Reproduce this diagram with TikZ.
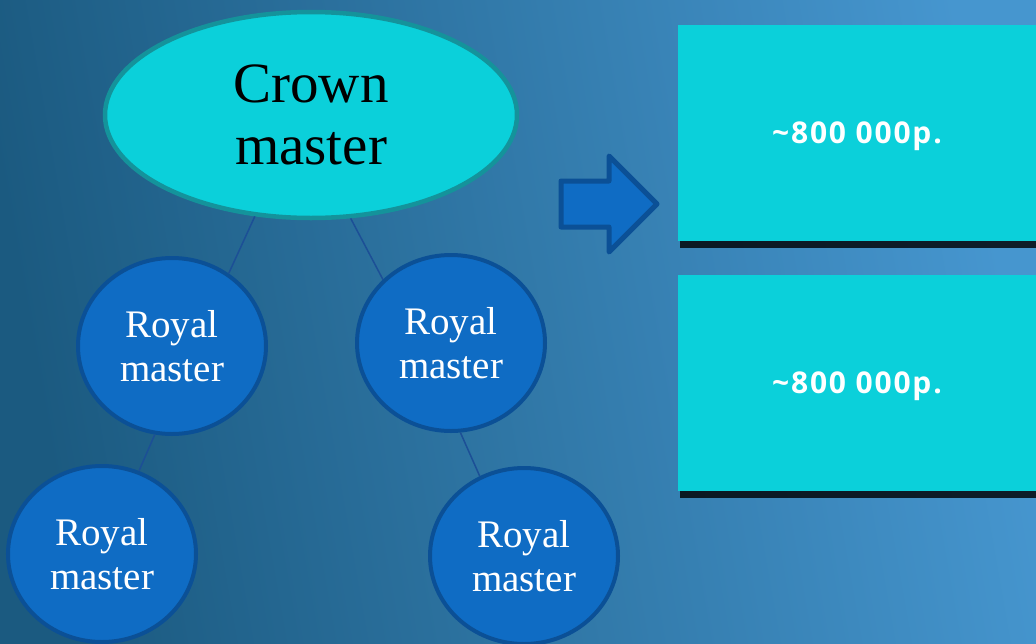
\documentclass[tikz,border=0pt]{standalone}
\usepackage{fontspec}
\setmainfont{Liberation Serif}
\newfontfamily\boxfont{Open Sans}
\usetikzlibrary{shapes.geometric,shadows}

\definecolor{bgleft}{HTML}{1B5A80}
\definecolor{bgright}{HTML}{4696CF}
\definecolor{cyanfill}{HTML}{0BD0DA}
\definecolor{cyanline}{HTML}{14939B}
\definecolor{royalfill}{HTML}{0F6CC4}
\definecolor{royalline}{HTML}{0B5096}
\definecolor{linkblue}{HTML}{1C4F96}

\begin{document}
\begin{tikzpicture}[
    x=1pt, y=-1pt,
    crown/.style={ellipse, draw=cyanline, fill=cyanfill, line width=4.5pt,
        minimum width=412, minimum height=206, align=center,
        font=\fontsize{57}{62}\selectfont},
    royal/.style={ellipse, draw=royalline, fill=royalfill, line width=4pt,
        minimum width=188, minimum height=176, align=center, text=white,
        font=\fontsize{39}{44}\selectfont},
    price/.style={rectangle, fill=cyanfill, minimum width=358, minimum height=216,
        inner sep=0pt, text height=21pt, text depth=0pt, text=white,
        font=\boxfont\bfseries\fontsize{30}{36}\selectfont,
        drop shadow={shadow xshift=2pt, shadow yshift=-7pt, opacity=0.8, fill=black}},
    link/.style={draw=linkblue, line width=1.5pt},
]
    % background
    \shade[left color=bgleft, right color=bgright, shading angle=100] (0,0) rectangle (1036,643);
    \useasboundingbox (0,0) rectangle (1036,643);

    % tree
    \node[crown] (crown) at (311,115) {Crown\\master};
    \node[royal] (royalA) at (172,346) {Royal\\master};
    \node[royal] (royalB) at (451,343) {Royal\\master};
    \node[royal] (royalC) at (102,554) {Royal\\master};
    \node[royal] (royalD) at (524,556) {Royal\\master};

    \draw[link] (crown.241) -- (royalA.52);
    \draw[link] (crown.291) -- (royalB.137);
    \draw[link] (royalA.259) -- (royalC.66);
    \draw[link] (royalB.276) -- (royalD.119);

    % block arrow
    \draw[draw=royalline, fill=royalfill, line width=5pt, line join=round]
        (561,181) -- (609,181) -- (609,156) -- (657,204) -- (609,252)
        -- (609,227) -- (561,227) -- cycle;

    % prices
    \node[price] (priceA) at (857,133) {\addfontfeature{LetterSpace=6}\textasciitilde800 000р.};
    \node[price] (priceB) at (857,383) {\addfontfeature{LetterSpace=6}\textasciitilde800 000р.};
\end{tikzpicture}
\end{document}
